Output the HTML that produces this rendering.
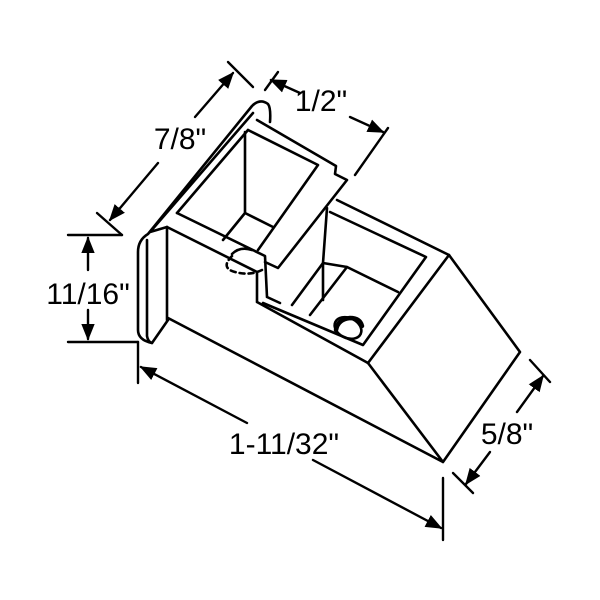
<!DOCTYPE html>
<html><head><meta charset="utf-8"><style>
html,body{margin:0;padding:0;background:#fff;}
svg{display:block}
text{font-family:"Liberation Sans",Arial,sans-serif;font-size:30px;fill:#000}
</style></head><body>
<svg width="600" height="600" viewBox="0 0 600 600" xmlns="http://www.w3.org/2000/svg">
<defs><marker id="a" viewBox="0 0 10 10" refX="9" refY="5" markerWidth="7" markerHeight="7" orient="auto-start-reverse"><path d="M0,1 L10,5 L0,9 z" fill="#000"/></marker></defs>
<g fill="none" stroke="#000" stroke-width="2.6" stroke-linejoin="round" stroke-linecap="round">
<path d="M152,343 Q138,340 138,330 L138,252 Q138,240 148,234 L252,106 Q260,98 268,104 Q271,108 270,122"/>
<path d="M150,232 L253,113 M147,240 L147,336 Q148,342 152,343 L168,320 M150,232 L167,227"/>
<path d="M177,213 L248,130"/>
<path d="M167,227 L167,320 M167,227 L257,272 L257,302 M177,213 L265,256 L267,297 M257,302 L368,363 M267,297 L280,303"/>
<path d="M168,318 L443,462 L368,363 M443,462 L520,352 L449,255 L337,200"/>
<path d="M257,120 L336,166 L335,174 L347,180 L278,268 L265,262"/>
<path d="M248,130 L318,165 L258,250 M245,132 L245,213 L273,227 M245,213 L223,240"/>
<path d="M232,254 Q240,246 252,250" />
<path d="M232,256 Q220,268 235,272 Q250,276 262,270" stroke-dasharray="5,4"/>
<path d="M327,208 L323,263 L323,300 M330,212 L426,257 L363,345 L263,303 M449,255 L368,363"/>
<path d="M323,263 L292,305 M323,263 L347,267 L398,292 M347,267 L310,315"/>
<ellipse cx="348" cy="328" rx="14" ry="10" transform="rotate(25 348 328)"/>
<path d="M336,330 Q338,319 350,318 Q360,318 362,326" stroke-width="4.5"/>
</g>
<g fill="none" stroke="#000" stroke-width="2.4" stroke-linecap="round">
<line x1="228" y1="62" x2="253" y2="87"/>
<line x1="97" y1="213" x2="122" y2="235"/>
<line x1="158" y1="163" x2="110" y2="220" marker-end="url(#a)"/>
<line x1="195" y1="117" x2="233" y2="73" marker-end="url(#a)"/>
<line x1="278" y1="72" x2="265" y2="90"/>
<line x1="388" y1="128" x2="355" y2="175"/>
<line x1="300" y1="93" x2="271" y2="80" marker-end="url(#a)"/>
<line x1="350" y1="117" x2="383" y2="132" marker-end="url(#a)"/>
<line x1="68" y1="235" x2="122" y2="235"/>
<line x1="68" y1="342" x2="138" y2="342"/>
<line x1="138" y1="342" x2="138" y2="383"/>
<line x1="88" y1="270" x2="88" y2="238" marker-end="url(#a)"/>
<line x1="88" y1="310" x2="88" y2="339" marker-end="url(#a)"/>
<line x1="443" y1="478" x2="443" y2="540"/>
<line x1="247" y1="423" x2="141" y2="367" marker-end="url(#a)"/>
<line x1="313" y1="460" x2="441" y2="528" marker-end="url(#a)"/>
<line x1="530" y1="360" x2="550" y2="382"/>
<line x1="453" y1="473" x2="473" y2="493"/>
<line x1="517" y1="412" x2="543" y2="376" marker-end="url(#a)"/>
<line x1="490" y1="452" x2="466" y2="484" marker-end="url(#a)"/>
</g>
<text x="180" y="149" text-anchor="middle">7/8"</text>
<text x="321" y="111" text-anchor="middle">1/2"</text>
<text x="88" y="304" text-anchor="middle">11/16"</text>
<text x="284" y="454" text-anchor="middle">1-11/32"</text>
<text x="507" y="444" text-anchor="middle">5/8"</text>
</svg>
</body></html>
